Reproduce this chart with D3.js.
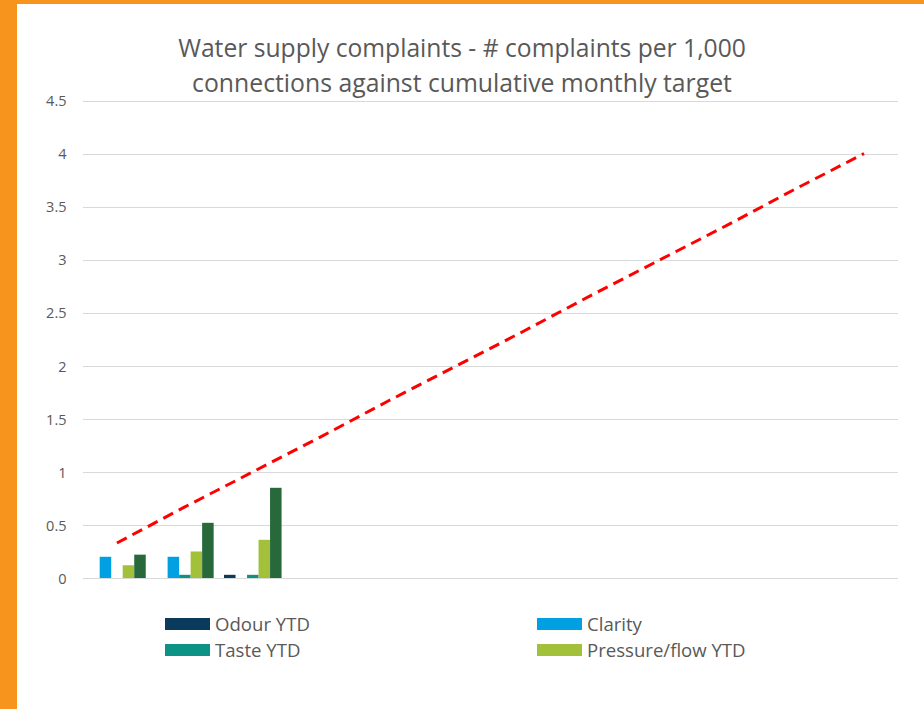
<!DOCTYPE html>
<html>
<head>
<meta charset="utf-8">
<script src="https://cdn.jsdelivr.net/npm/d3@7"></script>
<style>
  html, body { margin: 0; padding: 0; background: #fff; }
  svg { display: block; }
</style>
</head>
<body>
<svg id="chart" width="924" height="709"></svg>
<script>
// ---- Data ----
const months = ["Jul","Aug","Sep","Oct","Nov","Dec","Jan","Feb","Mar","Apr","May","Jun"];
const odourYTD    = [0,    0,    0.03];
const clarity     = [0.2,  0.2,  0];
const tasteYTD    = [0,    0.03, 0.03];
const pressureYTD = [0.12, 0.25, 0.36];
const totalYTD    = [0.22, 0.52, 0.85];
const target      = [0.33, 0.67, 1, 1.33, 1.67, 2, 2.33, 2.67, 3, 3.33, 3.67, 4];
const yTicks      = [0, 0.5, 1, 1.5, 2, 2.5, 3, 3.5, 4, 4.5];
const yTickLabels = ["0","0.5","1","1.5","2","2.5","3","3.5","4","4.5"];
const titleLines  = ["Water supply complaints - # complaints per 1,000", "connections against cumulative monthly target"];
const seriesNames = ["Odour YTD", "Clarity", "Taste YTD", "Pressure/flow YTD", "Total YTD"];
const seriesData  = [odourYTD, clarity, tasteYTD, pressureYTD, totalYTD];
const seriesColors = ["#0a3a5c", "#00a0e2", "#0c9385", "#a3c03a", "#27693b"];
const legendNames = ["Odour YTD", "Clarity", "Taste YTD", "Pressure/flow YTD"];

const svg = d3.select("#chart");
const W = 924, H = 709;
const font = "'Open Sans', 'Liberation Sans', sans-serif";
const textColor = "#595959";

// Frame
svg.append("rect").attr("x", 0).attr("y", 0).attr("width", W).attr("height", H).attr("fill", "#f7941e");
svg.append("rect").attr("x", 17).attr("y", 4).attr("width", W - 17).attr("height", H - 4).attr("fill", "#ffffff");

// Scales
const x = d3.scaleBand().domain(months).range([83, 898]).paddingInner(0).paddingOuter(0);
const y = d3.scaleLinear().domain([0, 4.5]).range([578, 100.5]);

// Gridlines
svg.append("g").selectAll("line").data(yTicks).join("line")
  .attr("x1", 83).attr("x2", 898)
  .attr("y1", d => Math.round(y(d)) + 0.5).attr("y2", d => Math.round(y(d)) + 0.5)
  .attr("stroke", "#d9d9d9").attr("stroke-width", 1);

// Y axis labels via d3 axis
const yAxis = d3.axisLeft(y).tickValues(yTicks).tickSize(0).tickPadding(0)
  .tickFormat((d, i) => yTickLabels[i]);
const gy = svg.append("g").attr("transform", "translate(66.5,0)").call(yAxis);
gy.select(".domain").remove();
gy.selectAll("text").attr("font-family", font).attr("font-size", 14.5).attr("fill", textColor).attr("dy", "0.36em");

// Bars
const band = x.bandwidth();
const barW = band / 5.9;
const gap = band - 5 * barW;
const sub = d3.scaleBand().domain(d3.range(5)).range([gap / 2, band - gap / 2]).padding(0);
seriesData.forEach((vals, si) => {
  svg.append("g").selectAll("rect").data(vals.map((v, i) => ({ m: months[i], v })))
    .join("rect")
    .attr("x", d => x(d.m) + sub(si))
    .attr("width", sub.bandwidth())
    .attr("y", d => y(d.v))
    .attr("height", d => y(0) - y(d.v))
    .attr("fill", seriesColors[si]);
});

// Target line
const line = d3.line().x((d, i) => x(months[i]) + band / 2).y(d => y(d));
svg.append("path").datum(target)
  .attr("d", line).attr("fill", "none")
  .attr("stroke", "#ff0000").attr("stroke-width", 3)
  .attr("stroke-dasharray", "11,6.5");

// Title (fit to measured widths)
const titleWidths = [568, 540];
const titleBase = [57, 92];
titleLines.forEach((t, i) => {
  const tx = svg.append("text").text(t)
    .attr("x", 462).attr("y", titleBase[i]).attr("text-anchor", "middle")
    .attr("font-family", font).attr("font-size", 22).attr("fill", textColor);
  const w = tx.node().getComputedTextLength();
  tx.attr("font-size", 22 * titleWidths[i] / w);
});

// Legend
const legendPos = [[165, 624], [537, 624], [165, 650], [537, 650]];
const lg = svg.append("g");
// size legend font so "Odour YTD" spans ~95px
const probe = lg.append("text").text(legendNames[0]).attr("font-family", font).attr("font-size", 18);
const legendFont = 18 * 95 / probe.node().getComputedTextLength();
probe.remove();
legendNames.forEach((name, i) => {
  const [lx, ly] = legendPos[i];
  lg.append("rect").attr("x", lx).attr("y", ly - 6).attr("width", 45).attr("height", 12)
    .attr("fill", seriesColors[seriesNames.indexOf(name)]);
  lg.append("text").text(name).attr("x", lx + 50).attr("y", ly + 6.5)
    .attr("font-family", font).attr("font-size", legendFont).attr("fill", textColor);
});
</script>
</body>
</html>
